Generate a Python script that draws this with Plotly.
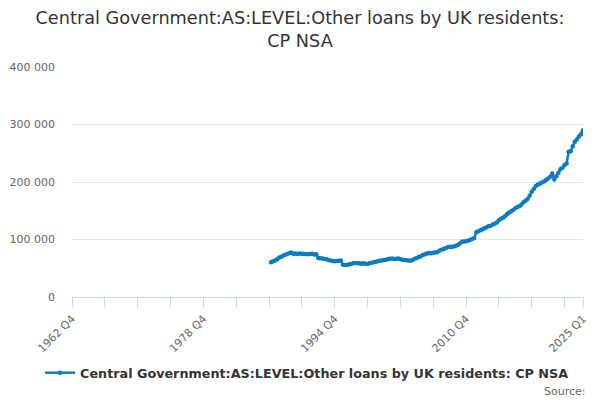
import plotly.graph_objects as go

# quarterly categories, 1962 Q4 .. 2025 Q1
start_year, start_q = 1962, 4
end_year, end_q = 2025, 1
quarters = []
y, q = start_year, start_q
while (y, q) <= (end_year, end_q):
    quarters.append(f"{y} Q{q}")
    q += 1
    if q > 4:
        q, y = 1, y + 1

# series begins in 1987 Q1 (values in £ million)
first_obs = "1987 Q1"
loans = [
    60.5, 62.0, 63.5, 65.5,      # 1987
    68.5, 70.0, 72.0, 73.5,      # 1988
    75.0, 76.5, 77.5, 75.0,      # 1989
    75.5, 75.0, 75.5, 75.3,      # 1990
    74.8, 75.0, 74.5, 74.8,      # 1991
    75.2, 74.0, 74.5, 68.0,      # 1992
    67.5, 67.0, 66.0, 65.5,      # 1993
    64.5, 63.5, 62.5, 62.0,      # 1994
    62.5, 63.0, 63.5, 56.0,      # 1995
    55.5, 55.8, 57.0, 57.5,      # 1996
    58.5, 59.0, 58.5, 58.5,      # 1997
    58.0, 58.5, 58.0, 57.5,      # 1998
    58.5, 59.5, 60.5, 61.5,      # 1999
    62.0, 63.0, 63.5, 64.5,      # 2000
    65.0, 66.0, 66.5, 67.0,      # 2001
    66.0, 66.5, 67.0, 65.5,      # 2002
    65.0, 64.5, 64.0, 63.5,      # 2003
    63.0, 64.5, 66.5, 68.0,      # 2004
    69.5, 71.0, 73.0, 74.5,      # 2005
    75.5, 76.5, 76.0, 77.0,      # 2006
    77.5, 78.0, 80.5, 82.0,      # 2007
    83.5, 85.0, 86.5, 87.5,      # 2008
    87.0, 88.0, 89.0, 90.5,      # 2009
    93.0, 96.0, 96.5, 97.0,      # 2010
    98.0, 99.5, 101.0, 102.5,    # 2011
    112.5, 114.5, 116.0, 118.0,  # 2012
    119.5, 121.5, 123.0, 124.0,  # 2013
    126.0, 127.5, 129.5, 133.5,  # 2014
    136.0, 138.0, 140.5, 144.5,  # 2015
    147.0, 149.0, 151.5, 154.5,  # 2016
    156.5, 158.0, 161.0, 165.0,  # 2017
    167.5, 170.5, 176.0, 183.0,  # 2018
    188.0, 193.0, 195.5, 197.0,  # 2019
    199.0, 201.0, 203.5, 206.0,  # 2020
    209.0, 215.0, 204.5, 210.0,  # 2021
    216.0, 222.0, 225.0, 229.5,  # 2022
    232.0, 252.5, 253.5, 262.0,  # 2023
    270.0, 274.0, 279.0, 283.0,  # 2024
    290.0,                       # 2025
]
values = [None] * quarters.index(first_obs) + [v * 1000 for v in loans]

label_ticks = ["1962 Q4", "1978 Q4", "1994 Q4", "2010 Q4", "2025 Q1"]
tick_cats = quarters[::16] + [quarters[-1]]
tick_text = [c if c in label_ticks else "" for c in tick_cats]

series_name = "Central Government:AS:LEVEL:Other loans by UK residents: CP NSA"
blue = "#0c7cc1"

fig = go.Figure()
fig.add_trace(go.Scatter(
    x=quarters, y=values, name=series_name,
    mode="lines+markers",
    line=dict(color=blue, width=2.5),
    marker=dict(color=blue, size=4.5),
    connectgaps=False,
))

fig.update_layout(
    width=600, height=400,
    paper_bgcolor="white", plot_bgcolor="white",
    margin=dict(l=72, r=17, t=67, b=103, autoexpand=False),
    separators=". ",
    font=dict(family="DejaVu Sans, Verdana, sans-serif", color="#666666", size=11),
    title=dict(
        text="Central Government:AS:LEVEL:Other loans by UK residents:<br>CP NSA",
        x=0.5, xanchor="center", y=0.94, yanchor="top",
        font=dict(size=17.7, color="#333333"),
    ),
    showlegend=True,
    legend=dict(
        orientation="h", x=0.46, xanchor="center", y=-0.33, yanchor="middle",
        font=dict(size=12.75, color="#333333", weight="bold"),
        bgcolor="rgba(0,0,0,0)",
    ),
    annotations=[dict(
        text="Source:", xref="paper", yref="paper", x=1.01, y=-0.41,
        xanchor="right", yanchor="middle", showarrow=False,
        font=dict(size=11, color="#666666"),
    )],
)

fig.update_xaxes(
    type="category", categoryorder="array", categoryarray=quarters,
    range=[0, len(quarters) - 1],
    tickmode="array", tickvals=tick_cats, ticktext=tick_text,
    tickangle=-45, ticks="outside", ticklen=10, tickcolor="#ccd6eb",
    showline=True, linecolor="#ccd6eb", linewidth=1,
    showgrid=False, zeroline=False,
    tickfont=dict(size=11, color="#666666"),
)
fig.update_yaxes(
    range=[0, 400000], tickvals=[0, 100000, 200000, 300000, 400000],
    tickformat=",d", showgrid=True, gridcolor="#e6e6e6", gridwidth=1,
    zeroline=False, showline=False, ticks="", ticklabelstandoff=16,
    tickfont=dict(size=11, color="#666666"),
)

fig.write_html("out.html", config={"displayModeBar": False},
               post_script="document.body.style.margin='0';")
